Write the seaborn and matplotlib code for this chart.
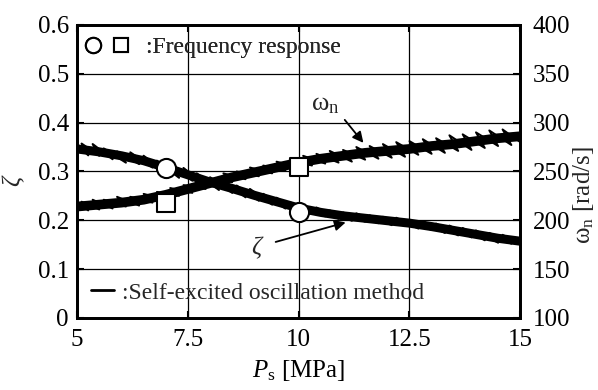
import numpy as np
import pandas as pd
import seaborn as sns
import matplotlib
matplotlib.use("Agg")
import matplotlib.pyplot as plt
from matplotlib.lines import Line2D
from matplotlib.legend_handler import HandlerTuple

# ---- data ----
# smoothed centre of the self-excited oscillation traces
ps = [5.0, 5.5, 6.0, 6.5, 7.0, 7.5, 8.0, 8.5, 9.0, 9.5, 10.0,
      10.5, 11.0, 11.5, 12.0, 12.5, 13.0, 13.5, 14.0, 14.5, 15.0]
zeta_self = [0.346, 0.340, 0.332, 0.322, 0.308, 0.293, 0.278, 0.265, 0.251, 0.238, 0.225,
             0.216, 0.209, 0.204, 0.199, 0.194, 0.187, 0.179, 0.171, 0.163, 0.157]
omega_self = [214, 216, 218, 221, 226, 232, 238, 244, 249, 254, 259,
              263, 266, 269, 271, 273, 276, 278, 281, 284, 286]

# raw (scribbly) self-excited oscillation traces, back-and-forth in Ps
raw_ps = [5.0, 5.25, 5.1, 5.5, 5.35, 5.8, 5.6, 6.1, 5.9, 6.4, 6.2, 6.7, 6.5, 7.0, 6.8,
          7.3, 7.1, 7.6, 7.4, 7.9, 7.7, 8.2, 8.0, 8.5, 8.3, 8.8, 8.6, 9.1, 8.9, 9.4,
          9.2, 9.7, 9.5, 10.0, 9.8, 10.3, 10.1, 10.6, 10.4, 10.9, 10.7, 11.2, 11.0,
          11.5, 11.3, 11.8, 11.6, 12.1, 11.9, 12.4, 12.2, 12.7, 12.5, 13.0, 12.8,
          13.3, 13.1, 13.6, 13.4, 13.9, 13.7, 14.2, 14.0, 14.5, 14.3, 14.8, 14.6, 15.0]
zeta_raw = [0.356, 0.333, 0.357, 0.332, 0.356, 0.325, 0.347, 0.318, 0.341, 0.315,
            0.339, 0.308, 0.332, 0.297, 0.322, 0.287, 0.315, 0.281, 0.307, 0.271,
            0.296, 0.262, 0.288, 0.256, 0.281, 0.247, 0.271, 0.240, 0.264, 0.232,
            0.254, 0.224, 0.246, 0.217, 0.237, 0.213, 0.230, 0.208, 0.226, 0.203,
            0.220, 0.199, 0.216, 0.197, 0.214, 0.194, 0.210, 0.190, 0.207, 0.188,
            0.205, 0.183, 0.201, 0.180, 0.198, 0.174, 0.193, 0.169, 0.189, 0.165,
            0.184, 0.159, 0.179, 0.154, 0.174, 0.152, 0.170, 0.151]
omega_raw = [219, 210, 219, 211, 221, 212, 221, 214, 224, 215, 224, 218, 227, 221,
             229, 225, 233, 228, 236, 232, 240, 235, 243, 239, 248, 242, 250, 245,
             254, 248, 256, 251, 260, 254, 262, 256, 266, 258, 268, 259, 271, 260,
             272, 262, 275, 263, 276, 264, 278, 265, 280, 267, 281, 268, 283, 269,
             284, 271, 287, 272, 288, 274, 290, 276, 292, 277, 293, 280]

# frequency response points
fr_ps = [7.0, 10.0]
fr_zeta = [0.307, 0.217]
fr_omega = [218, 254]

x_ticks = [5, 7.5, 10, 12.5, 15]
x_ticklabels = ["5", "7.5", "10", "12.5", "15"]
zeta_ticks = [0, 0.1, 0.2, 0.3, 0.4, 0.5, 0.6]
zeta_ticklabels = ["0", "0.1", "0.2", "0.3", "0.4", "0.5", "0.6"]
omega_ticks = [100, 150, 200, 250, 300, 350, 400]

df_self = pd.DataFrame({"ps": ps, "zeta": zeta_self, "omega": omega_self})
df_raw = pd.DataFrame({"ps": raw_ps, "zeta": zeta_raw, "omega": omega_raw})
df_fr = pd.DataFrame({"ps": fr_ps, "zeta": fr_zeta, "omega": fr_omega})

sns.set_theme(style="ticks")
plt.rcParams["font.family"] = ["Liberation Serif", "DejaVu Serif"]
plt.rcParams["mathtext.fontset"] = "custom"
plt.rcParams["mathtext.rm"] = "Liberation Serif"
plt.rcParams["mathtext.it"] = "Liberation Serif:italic"
plt.rcParams["axes.unicode_minus"] = False

FS = 17
TFS = 18
fig = plt.figure(figsize=(5.98, 3.9), dpi=100)
ax = fig.add_axes([0.129, 0.185, 0.741, 0.751])
ax2 = ax.twinx()

ax.set_xlim(5, 15)
ax.set_ylim(0, 0.6)
ax2.set_ylim(100, 400)

ax.grid(True, color="black", lw=0.9)
ax.set_axisbelow(True)

# self-excited oscillation traces
sns.lineplot(data=df_self, x="ps", y="zeta", ax=ax, color="black", lw=6.5,
             sort=False, zorder=3, legend=False)
sns.lineplot(data=df_raw, x="ps", y="zeta", ax=ax, color="black", lw=1.5,
             sort=False, zorder=3, legend=False)
sns.lineplot(data=df_self, x="ps", y="omega", ax=ax2, color="black", lw=7,
             sort=False, zorder=3, legend=False)
sns.lineplot(data=df_raw, x="ps", y="omega", ax=ax2, color="black", lw=1.4,
             sort=False, zorder=3, legend=False)

# frequency response markers
sns.scatterplot(data=df_fr, x="ps", y="zeta", ax=ax, marker="o", s=190,
                facecolor="white", edgecolor="black", linewidth=1.5, zorder=5, legend=False)
sns.scatterplot(data=df_fr, x="ps", y="omega", ax=ax2, marker="s", s=150,
                facecolor="white", edgecolor="black", linewidth=1.5, zorder=5, legend=False)

# ticks
ax.set_xticks(x_ticks)
ax.set_xticklabels(x_ticklabels)
ax.set_yticks(zeta_ticks)
ax.set_yticklabels(zeta_ticklabels)
ax2.set_yticks(omega_ticks)
ax.tick_params(axis="both", direction="in", length=5, width=1.5, labelsize=TFS,
               colors="black", pad=6)
ax.tick_params(axis="x", top=True, pad=8)
ax2.tick_params(axis="y", direction="in", length=5, width=1.5, labelsize=TFS,
                colors="black", pad=9)
for a in (ax, ax2):
    for sp in a.spines.values():
        sp.set_visible(True)
        sp.set_linewidth(2)
        sp.set_color("black")

ax.set_xlabel(r"$P_\mathrm{s}$ [MPa]", fontsize=TFS, color="black", labelpad=5)
ax.set_ylabel("")
ax2.set_ylabel("")
fig.text(0.022, 0.535, "ζ", rotation=90, fontsize=TFS, style="italic",
         ha="center", va="center")
fig.text(0.975, 0.5, r"$\mathrm{ω}_\mathrm{n}$ [rad/s]", rotation=90, fontsize=TFS,
         ha="center", va="center")

# annotations
ax.annotate("", xy=(11.5, 0.354), xytext=(11.0, 0.41),
            arrowprops=dict(arrowstyle="-|>", color="black", lw=1.3,
                            mutation_scale=16), zorder=6)
ax.text(10.6, 0.436, r"$\mathrm{ω}_\mathrm{n}$", fontsize=19, ha="center", va="center")
ax.annotate("", xy=(11.12, 0.197), xytext=(9.42, 0.154),
            arrowprops=dict(arrowstyle="-|>", color="black", lw=1.3,
                            mutation_scale=16), zorder=6)
ax.text(9.04, 0.142, "ζ", fontsize=TFS, style="italic", ha="center", va="center")

# legends
h_c = Line2D([], [], marker="o", ls="none", markersize=11, mfc="white",
             mec="black", mew=1.5)
h_s = Line2D([], [], marker="s", ls="none", markersize=9.5, mfc="white",
             mec="black", mew=1.5)
leg1 = ax.legend([(h_c, h_s)], [":Frequency response"],
                 handler_map={tuple: HandlerTuple(ndivide=None, pad=0.45)},
                 loc="upper left", bbox_to_anchor=(-0.01, 1.0), frameon=False,
                 fontsize=FS, handlelength=1.9, handletextpad=0.7,
                 borderaxespad=0.3, borderpad=0.2)
ax.add_artist(leg1)
h_l = Line2D([], [], color="black", lw=2)
leg2 = ax2.legend([h_l], [":Self-excited oscillation method"], loc="lower left",
                  bbox_to_anchor=(0.0, 0.0), frameon=False, fontsize=FS,
                  handlelength=0.95, handletextpad=0.35, borderaxespad=0.3,
                  borderpad=0.3)

fig.savefig("out.png", dpi=100)
